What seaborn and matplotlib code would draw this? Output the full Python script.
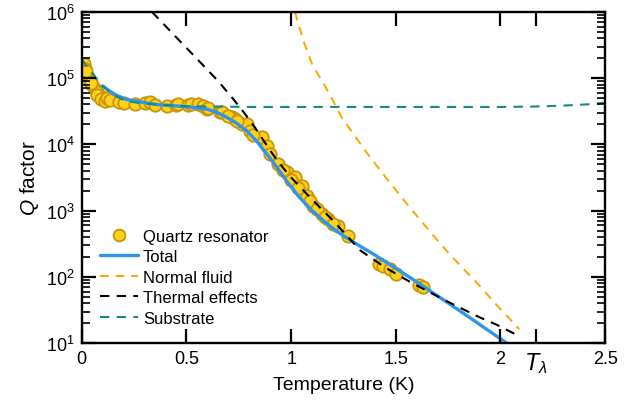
import numpy as np
import pandas as pd
import matplotlib
matplotlib.use('Agg')
import matplotlib.pyplot as plt
import seaborn as sns
from matplotlib.ticker import LogLocator, NullLocator, NullFormatter
from matplotlib.lines import Line2D

# measured Q factor (values read as log10 Q)
data_T = [0.010, 0.014, 0.019, 0.029, 0.038, 0.048, 0.062, 0.072, 0.086, 0.100,
          0.020, 0.045, 0.075, 0.090, 0.110,
          0.120, 0.134, 0.180, 0.200, 0.253, 0.300, 0.325, 0.350, 0.406, 0.450,
          0.459, 0.507, 0.520, 0.554, 0.580, 0.598, 0.602, 0.660, 0.669, 0.717,
          0.731, 0.765, 0.789, 0.803, 0.860, 0.884, 0.937, 0.980, 1.018, 1.052,
          1.076, 1.104, 1.147, 1.176, 1.224, 1.271, 1.420, 1.440, 1.470, 1.500,
          1.610, 1.630,
          0.820, 0.900, 0.960, 1.000, 1.035, 1.090, 1.125, 1.160, 1.200, 0.700, 0.740]
data_logQ = [5.21, 5.14, 5.06, 5.02, 4.96, 4.90, 4.84, 4.79, 4.73, 4.69,
             5.10, 4.93, 4.74, 4.68, 4.66,
             4.70, 4.67, 4.64, 4.62, 4.61, 4.62, 4.64, 4.60, 4.58, 4.59,
             4.61, 4.60, 4.61, 4.61, 4.58, 4.535, 4.55, 4.49, 4.49, 4.41,
             4.38, 4.31, 4.31, 4.20, 4.11, 3.98, 3.70, 3.58, 3.51, 3.37,
             3.22, 3.07, 2.95, 2.87, 2.77, 2.61, 2.19, 2.17, 2.12, 2.04,
             1.87, 1.84,
             4.14, 3.86, 3.62, 3.46, 3.34, 3.15, 3.02, 2.90, 2.80, 4.43, 4.36]

# model curves
total_T = [0.10, 0.13, 0.16, 0.21, 0.30, 0.36, 0.45, 0.53, 0.60, 0.64, 0.68,
           0.73, 0.79, 0.84, 0.89, 0.93, 0.98, 1.04, 1.10, 1.15, 1.20, 1.25,
           1.31, 1.39, 1.50, 1.63, 1.80, 2.03]
total_logQ = [4.88, 4.81, 4.75, 4.68, 4.63, 4.60, 4.58, 4.56, 4.53, 4.49, 4.43,
              4.34, 4.20, 4.03, 3.83, 3.66, 3.44, 3.20, 3.00, 2.86, 2.73, 2.62,
              2.50, 2.35, 2.13, 1.86, 1.50, 1.00]

normal_T = [1.018, 1.06, 1.104, 1.152, 1.243, 1.362, 1.44, 1.553, 1.664,
            1.76, 1.89, 1.98, 2.09]
normal_logQ = [6.0, 5.55, 5.18, 4.94, 4.40, 3.87, 3.55, 3.10, 2.68,
               2.33, 1.90, 1.58, 1.21]

thermal_T = [0.335, 0.45, 0.564, 0.65, 0.722, 0.77, 0.817, 0.87, 0.93, 0.994,
             1.09, 1.2, 1.33, 1.45, 1.57, 1.745, 1.90, 1.98, 2.03, 2.08]
thermal_logQ = [6.0, 5.62, 5.245, 4.96, 4.69, 4.50, 4.30, 4.05, 3.77, 3.52,
                3.20, 2.85, 2.40, 2.14, 1.92, 1.63, 1.39, 1.28, 1.20, 1.12]

substrate_T = [0.0, 0.03, 0.062, 0.10, 0.15, 0.206, 0.28, 0.363, 0.5, 0.8,
               1.2, 1.6, 2.0, 2.15, 2.3, 2.42, 2.5]
substrate_logQ = [5.29, 5.14, 5.03, 4.88, 4.75, 4.66, 4.62, 4.60, 4.575, 4.565,
                  4.565, 4.565, 4.565, 4.57, 4.585, 4.605, 4.63]

xticks = [0, 0.5, 1, 1.5, 2, 2.17, 2.5]
xticklabels = ['0', '0.5', '1', '1.5', '2', r'$T_\lambda$', '2.5']

sns.set_style('ticks')
plt.rcParams['font.family'] = ['Liberation Sans', 'DejaVu Sans']
plt.rcParams.update({
    'mathtext.fontset': 'custom',
    'mathtext.rm': 'Liberation Sans',
    'mathtext.it': 'Liberation Sans:italic',
    'font.size': 12,
    'axes.edgecolor': 'black',
    'axes.linewidth': 1.7,
    'text.color': 'black',
    'axes.labelcolor': 'black',
    'xtick.color': 'black',
    'ytick.color': 'black',
})

c_data_face = '#FFD21A'
c_data_edge = '#C8940A'
c_total = '#2F95EC'
c_normal = '#FFA500'
c_thermal = 'black'
c_sub = '#138A8A'
dash = (0, (4.5, 3.5))
pos = [0.128, 0.144, 0.819, 0.824]

fig = plt.figure(figsize=(6.39, 4.02), dpi=100)

# data layer
ax = fig.add_axes(pos)
data = pd.DataFrame({'T': data_T, 'Q': 10 ** np.array(data_logQ)})
sns.scatterplot(data=data, x='T', y='Q', ax=ax, s=80, color=c_data_face,
                edgecolor=c_data_edge, linewidth=1.3, zorder=2, legend=False)
sns.lineplot(x=total_T, y=10 ** np.array(total_logQ), ax=ax, color=c_total,
             linewidth=2.4, zorder=3, sort=False, estimator=None)
sns.lineplot(x=normal_T, y=10 ** np.array(normal_logQ), ax=ax, color=c_normal,
             linestyle=dash, linewidth=1.4, zorder=3, sort=False, estimator=None)
sns.lineplot(x=thermal_T, y=10 ** np.array(thermal_logQ), ax=ax, color=c_thermal,
             linestyle=dash, linewidth=1.5, zorder=3, sort=False, estimator=None)
sns.lineplot(x=substrate_T, y=10 ** np.array(substrate_logQ), ax=ax, color=c_sub,
             linestyle=dash, linewidth=1.5, zorder=3, sort=False, estimator=None)
ax.set_yscale('log')
ax.set_xlim(0, 2.5)
ax.set_ylim(1e1, 1e6)
ax.axis('off')

handles = [
    Line2D([], [], marker='o', linestyle='none', markersize=8.5,
           markerfacecolor=c_data_face, markeredgecolor=c_data_edge, markeredgewidth=1.3),
    Line2D([], [], color=c_total, lw=2.4),
    Line2D([], [], color=c_normal, lw=1.4, linestyle=dash),
    Line2D([], [], color=c_thermal, lw=1.5, linestyle=dash),
    Line2D([], [], color=c_sub, lw=1.5, linestyle=dash),
]
labels = ['Quartz resonator', 'Total', 'Normal fluid', 'Thermal effects', 'Substrate']
ax.legend(handles, labels, loc='upper left', bbox_to_anchor=(0.034, 0.345),
          frameon=False, fontsize=12, borderpad=0, borderaxespad=0,
          handlelength=2.3, handletextpad=0.3, labelspacing=0.33)

# frame layer: spines, ticks and axis labels on a transparent axes on top
fr = fig.add_axes(pos, facecolor='none')
fr.set_yscale('log')
fr.set_xlim(0, 2.5)
fr.set_ylim(1e1, 1e6)
fr.set_xticks(xticks)
fr.set_xticklabels(xticklabels)
fr.xaxis.set_minor_locator(NullLocator())
fr.yaxis.set_major_locator(LogLocator(base=10, numticks=10))
fr.yaxis.set_minor_locator(LogLocator(base=10, subs=np.arange(2, 10), numticks=20))
fr.yaxis.set_minor_formatter(NullFormatter())
fr.tick_params(which='both', direction='in', top=True, right=True, labelsize=13, pad=5)
fr.tick_params(which='major', length=10, width=1.6)
fr.tick_params(which='minor', length=6, width=1.2)
for lab in fr.get_xticklabels():
    if 'lambda' in lab.get_text():
        lab.set_fontsize(17)
fr.set_xlabel('Temperature (K)', fontsize=14, labelpad=1)
fr.set_ylabel('$Q$ factor', fontsize=15, labelpad=4)

fig.savefig('out.png', dpi=100)
